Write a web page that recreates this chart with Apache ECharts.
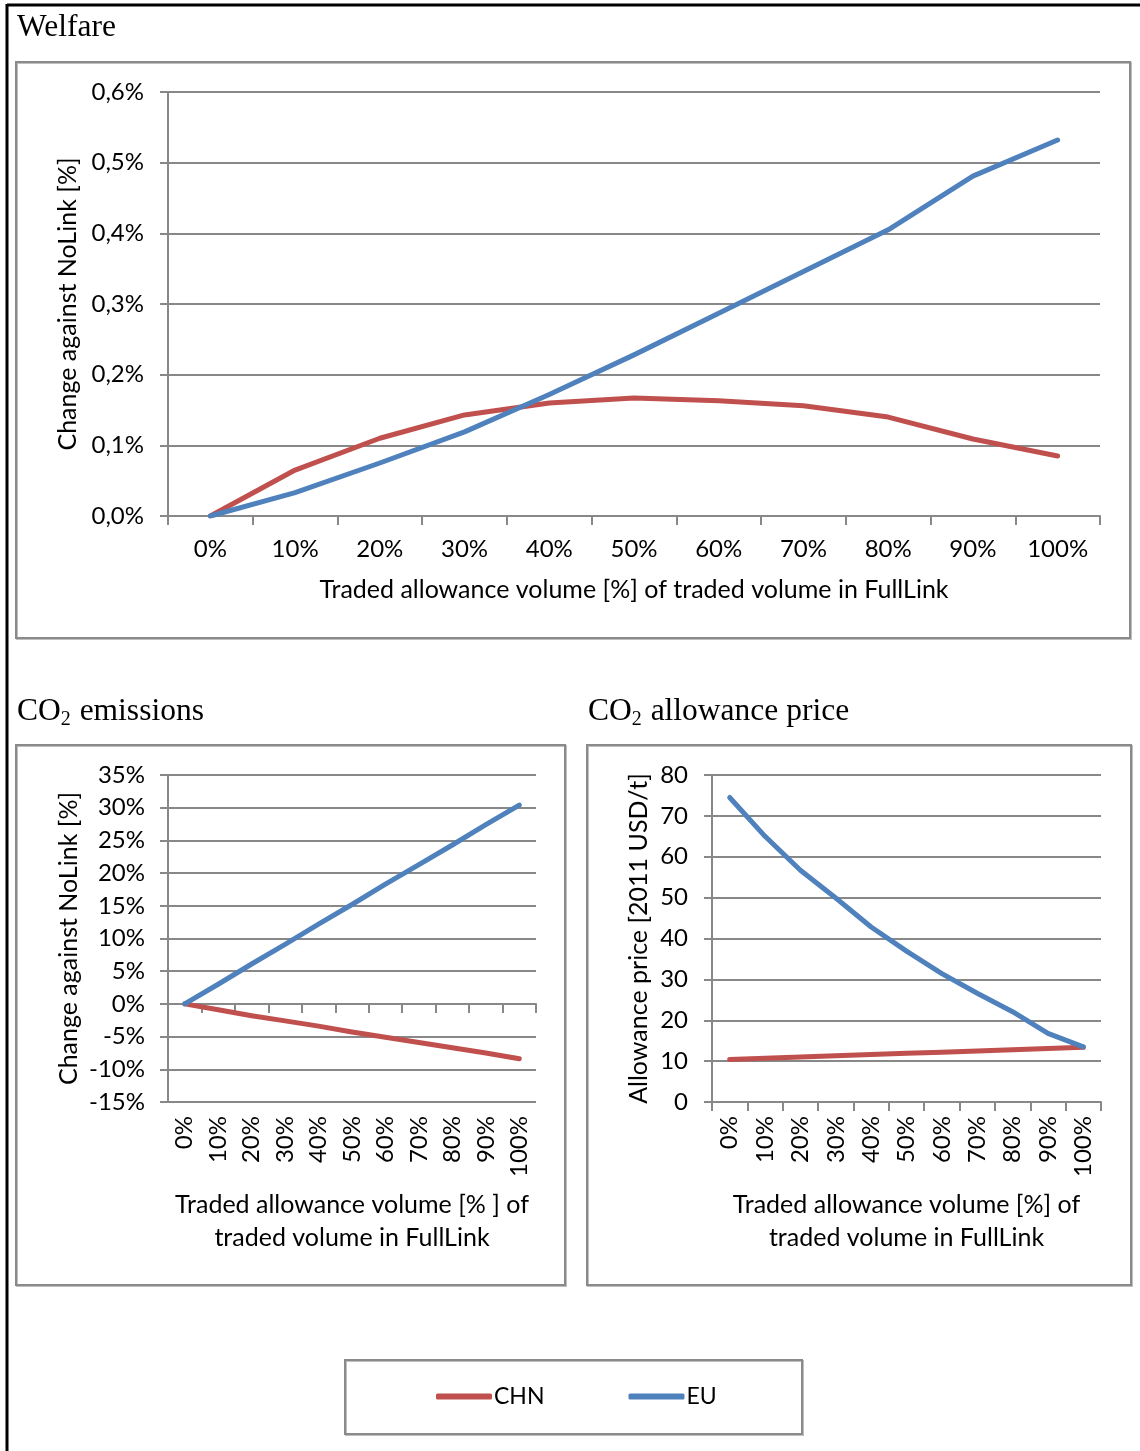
<!DOCTYPE html>
<html>
<head>
<meta charset="utf-8">
<script src="https://cdn.jsdelivr.net/npm/echarts@6/dist/echarts.min.js"></script>
<style>
html,body{margin:0;padding:0;background:#fff;}
#c{width:1140px;height:1451px;}
</style>
</head>
<body>
<div id="c"></div>
<script>
const categories = ['0%','10%','20%','30%','40%','50%','60%','70%','80%','90%','100%'];
const seriesNames = ['CHN','EU'];
const welfareCHN = [0, 0.065, 0.110, 0.143, 0.160, 0.167, 0.163, 0.156, 0.140, 0.109, 0.085];
const welfareEU  = [0, 0.033, 0.075, 0.119, 0.172, 0.228, 0.287, 0.346, 0.405, 0.481, 0.532];
const emissionsCHN = [0, -0.9, -1.8, -2.6, -3.4, -4.3, -5.1, -5.9, -6.7, -7.5, -8.4];
const emissionsEU  = [0, 3.0, 6.1, 9.1, 12.2, 15.2, 18.3, 21.3, 24.3, 27.4, 30.4];
const priceCHN = [10.4, 10.7, 11.0, 11.3, 11.6, 11.9, 12.2, 12.5, 12.8, 13.1, 13.4];
const priceEU  = [74.5, 65.0, 56.7, 49.9, 42.8, 36.9, 31.4, 26.6, 22.1, 16.8, 13.5];

const colors = {CHN: '#C0504D', EU: '#4F81BD'};
const SANS = 'Lato';
const SERIF = 'Liberation Serif';
const FS = 24;
const NFS = 25;
const gridColor = '#888888';

const chart = echarts.init(document.getElementById('c'), null, {renderer: 'canvas'});

function lineSeries(name, data, xi, yi) {
  return {
    name: name, type: 'line', data: data, xAxisIndex: xi, yAxisIndex: yi,
    showSymbol: false, symbol: 'none', smooth: false,
    lineStyle: {color: colors[name], width: 5, cap: 'round', join: 'round'},
    itemStyle: {color: colors[name]},
    emphasis: {disabled: true}, animation: false
  };
}

const axisLineStyle = {color: gridColor, width: 2};
const labelBase = {color: '#000', fontFamily: SANS, fontSize: FS};
const nameBase = {color: '#000', fontFamily: SANS, fontSize: NFS};

const titleRich = {
  a: {fontFamily: SERIF, fontSize: 31.5, fontWeight: 'normal', color: '#000', lineHeight: 36},
  s: {fontFamily: SERIF, fontSize: 20, fontWeight: 'normal', color: '#000', lineHeight: 36, verticalAlign: 'bottom', padding: [0, 1, 0, 0]}
};

const option = {
  animation: false,
  backgroundColor: '#fff',
  title: [
    {text: '{a|Welfare}', left: 17, top: 10, padding: 0, textStyle: {fontWeight: 'normal', rich: titleRich}},
    {text: '{a|CO}{s|2}{a| emissions}', left: 17, top: 694, padding: 0, textStyle: {fontWeight: 'normal', rich: titleRich}},
    {text: '{a|CO}{s|2}{a| allowance price}', left: 588, top: 694, padding: 0, textStyle: {fontWeight: 'normal', rich: titleRich}}
  ],
  legend: {
    data: seriesNames,
    left: 431, top: 1380,
    icon: 'roundRect',
    itemWidth: 56, itemHeight: 6, itemGap: 84,
    textStyle: {color: '#000', fontFamily: SANS, fontSize: 23, padding: [0, 0, 0, -3]},
    selectedMode: false
  },
  graphic: [
    {type: 'line', shape: {x1: 7, y1: 5, x2: 1140, y2: 5}, style: {stroke: '#000', lineWidth: 3}},
    {type: 'line', shape: {x1: 7, y1: 4, x2: 7, y2: 1451}, style: {stroke: '#000', lineWidth: 3}},
    {type: 'rect', shape: {x: 16, y: 62, width: 1114, height: 576}, style: {fill: 'none', stroke: '#8a8a8a', lineWidth: 2, shadowColor: 'rgba(0,0,0,0.25)', shadowOffsetX: 1, shadowOffsetY: 1}},
    {type: 'rect', shape: {x: 16, y: 745, width: 549, height: 540}, style: {fill: 'none', stroke: '#8a8a8a', lineWidth: 2, shadowColor: 'rgba(0,0,0,0.25)', shadowOffsetX: 1, shadowOffsetY: 1}},
    {type: 'rect', shape: {x: 587, y: 745, width: 544, height: 540}, style: {fill: 'none', stroke: '#8a8a8a', lineWidth: 2, shadowColor: 'rgba(0,0,0,0.25)', shadowOffsetX: 1, shadowOffsetY: 1}},
    {type: 'rect', shape: {x: 345, y: 1360, width: 457, height: 74}, style: {fill: 'none', stroke: '#8a8a8a', lineWidth: 2, shadowColor: 'rgba(0,0,0,0.25)', shadowOffsetX: 1, shadowOffsetY: 1}}
  ],
  grid: [
    {left: 168, top: 92, width: 932, height: 424, containLabel: false},
    {left: 168, top: 775, width: 368, height: 327, containLabel: false},
    {left: 712, top: 775, width: 389, height: 327, containLabel: false}
  ],
  xAxis: [
    {
      type: 'category', gridIndex: 0, data: categories, boundaryGap: true,
      axisLine: {show: true, lineStyle: axisLineStyle},
      axisTick: {show: true, interval: 0, length: 9, lineStyle: axisLineStyle},
      axisLabel: Object.assign({margin: 21, interval: 0}, labelBase),
      splitLine: {show: false},
      name: 'Traded allowance volume [%] of traded volume in FullLink',
      nameLocation: 'middle', nameGap: 61, nameTextStyle: nameBase
    },
    {
      type: 'category', gridIndex: 1, data: categories, boundaryGap: true, position: 'bottom',
      axisLine: {show: true, onZero: true, lineStyle: axisLineStyle},
      axisTick: {show: true, interval: 0, length: 9, lineStyle: axisLineStyle},
      axisLabel: {show: false, interval: 0},
      splitLine: {show: false}
    },
    {
      type: 'category', gridIndex: 1, data: categories, boundaryGap: true, position: 'bottom',
      axisLine: {show: false, onZero: false},
      axisTick: {show: false},
      axisLabel: Object.assign({margin: 14, interval: 0, rotate: 90}, labelBase),
      splitLine: {show: false},
      name: 'Traded allowance volume [% ] of\ntraded volume in FullLink',
      nameLocation: 'middle', nameGap: 86,
      nameTextStyle: Object.assign({lineHeight: 33, align: 'center'}, nameBase)
    },
    {
      type: 'category', gridIndex: 2, data: categories, boundaryGap: true, position: 'bottom',
      axisLine: {show: true, onZero: false, lineStyle: axisLineStyle},
      axisTick: {show: true, interval: 0, length: 9, lineStyle: axisLineStyle},
      axisLabel: Object.assign({margin: 14, interval: 0, rotate: 90}, labelBase),
      splitLine: {show: false},
      name: 'Traded allowance volume [%] of\ntraded volume in FullLink',
      nameLocation: 'middle', nameGap: 86,
      nameTextStyle: Object.assign({lineHeight: 33, align: 'center'}, nameBase)
    }
  ],
  yAxis: [
    {
      type: 'value', gridIndex: 0, min: 0, max: 0.6, interval: 0.1,
      axisLine: {show: true, lineStyle: axisLineStyle},
      axisTick: {show: true, length: 8, lineStyle: axisLineStyle},
      axisLabel: Object.assign({margin: 24, formatter: v => v.toFixed(1).replace('.', ',') + '%'}, labelBase),
      splitLine: {show: true, lineStyle: {color: gridColor, width: 2}},
      name: 'Change against NoLink [%]', nameLocation: 'middle', nameGap: 87, nameTextStyle: nameBase
    },
    {
      type: 'value', gridIndex: 1, min: -15, max: 35, interval: 5,
      axisLine: {show: true, onZero: false, lineStyle: axisLineStyle},
      axisTick: {show: true, length: 8, lineStyle: axisLineStyle},
      axisLabel: Object.assign({margin: 23, formatter: v => v + '%'}, labelBase),
      splitLine: {show: true, lineStyle: {color: gridColor, width: 2}},
      name: 'Change against NoLink [%]', nameLocation: 'middle', nameGap: 87, nameTextStyle: nameBase
    },
    {
      type: 'value', gridIndex: 2, min: 0, max: 80, interval: 10,
      axisLine: {show: true, onZero: false, lineStyle: axisLineStyle},
      axisTick: {show: true, length: 8, lineStyle: axisLineStyle},
      axisLabel: Object.assign({margin: 24}, labelBase),
      splitLine: {show: true, lineStyle: {color: gridColor, width: 2}},
      name: 'Allowance price [2011 USD/t]', nameLocation: 'middle', nameGap: 61, nameTextStyle: nameBase
    }
  ],
  series: [
    lineSeries('CHN', welfareCHN, 0, 0),
    lineSeries('EU', welfareEU, 0, 0),
    lineSeries('CHN', emissionsCHN, 1, 1),
    lineSeries('EU', emissionsEU, 1, 1),
    lineSeries('CHN', priceCHN, 3, 2),
    lineSeries('EU', priceEU, 3, 2)
  ]
};
chart.setOption(option);
</script>
</body>
</html>
